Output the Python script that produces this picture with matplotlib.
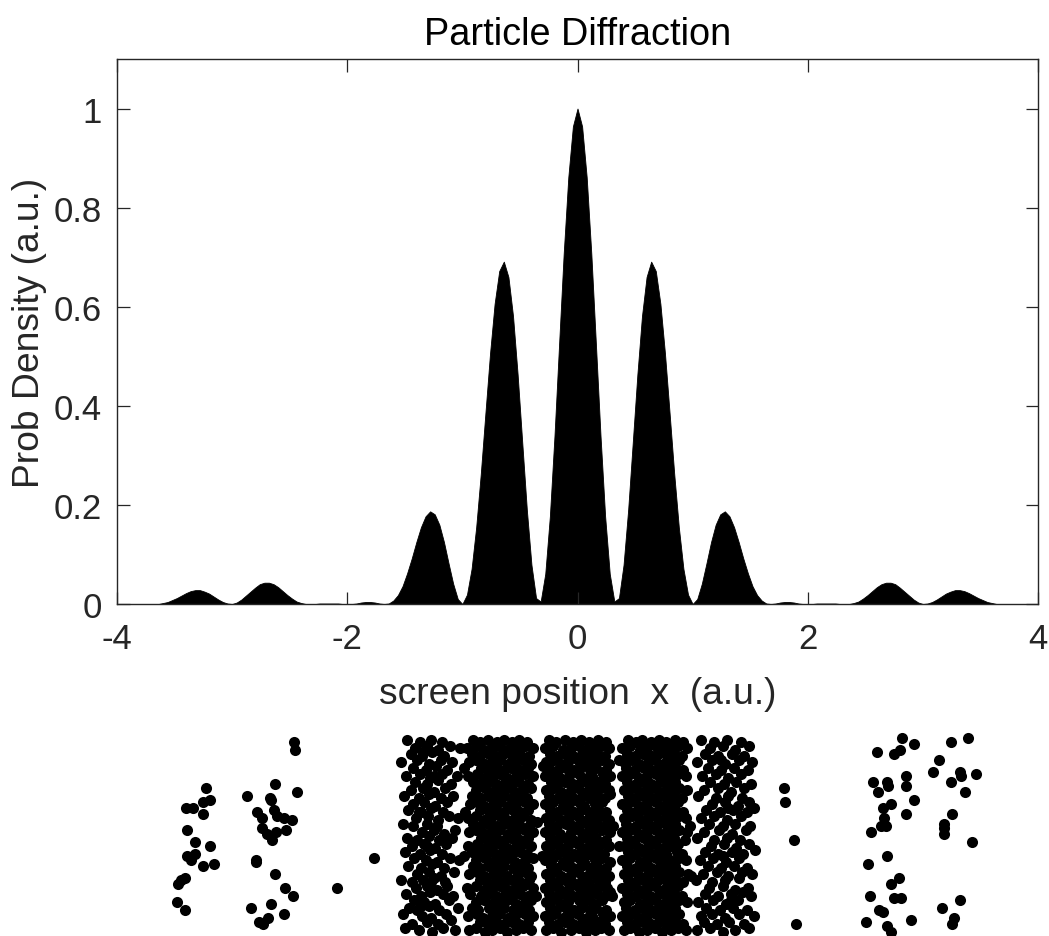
import numpy as np
import matplotlib
matplotlib.use("Agg")
import matplotlib.pyplot as plt

# ---------------- data ----------------
title = "Particle Diffraction"
x_label = "screen position  x  (a.u.)"
y_label = "Prob Density (a.u.)"
x_ticks = [-4, -2, 0, 2, 4]
y_ticks = [0, 0.2, 0.4, 0.6, 0.8, 1.0]
y_tick_labels = ["0", "0.2", "0.4", "0.6", "0.8", "1"]

# screen positions where the density was read (-4 ... 4, step 0.04)
x_pos = np.linspace(-4, 4, 201)
density = [
    0.000, 0.000, 0.000, 0.000, 0.000, 0.000, 0.000, 0.000, 0.000, 0.000,
    0.002, 0.004, 0.008, 0.012, 0.017, 0.022, 0.026, 0.028, 0.028, 0.025,
    0.021, 0.015, 0.009, 0.004, 0.001, 0.000, 0.003, 0.009, 0.017, 0.025,
    0.033, 0.040, 0.043, 0.043, 0.040, 0.034, 0.026, 0.018, 0.011, 0.005,
    0.002, 0.000, 0.000, 0.000, 0.001, 0.001, 0.001, 0.001, 0.001, 0.000,
    0.000, 0.000, 0.001, 0.003, 0.004, 0.004, 0.003, 0.001, 0.000, 0.001,
    0.007, 0.018, 0.036, 0.062, 0.092, 0.125, 0.155, 0.177, 0.187, 0.181,
    0.160, 0.125, 0.082, 0.041, 0.010, 0.000, 0.019, 0.071, 0.155, 0.263,
    0.385, 0.505, 0.606, 0.672, 0.691, 0.660, 0.581, 0.463, 0.326, 0.190,
    0.079, 0.012, 0.005, 0.061, 0.177, 0.339, 0.524, 0.707, 0.861, 0.964,
    1.000,
    0.964, 0.861, 0.707, 0.524, 0.339, 0.177, 0.061, 0.005, 0.012,
    0.079, 0.190, 0.326, 0.463, 0.581, 0.660, 0.691, 0.672, 0.606, 0.505,
    0.385, 0.263, 0.155, 0.071, 0.019, 0.000, 0.010, 0.041, 0.082, 0.125,
    0.160, 0.181, 0.187, 0.177, 0.155, 0.125, 0.092, 0.062, 0.036, 0.018,
    0.007, 0.001, 0.000, 0.001, 0.003, 0.004, 0.004, 0.003, 0.001, 0.000,
    0.000, 0.000, 0.001, 0.001, 0.001, 0.001, 0.001, 0.000, 0.000, 0.000,
    0.002, 0.005, 0.011, 0.018, 0.026, 0.034, 0.040, 0.043, 0.043, 0.040,
    0.033, 0.025, 0.017, 0.009, 0.003, 0.000, 0.001, 0.004, 0.009, 0.015,
    0.021, 0.025, 0.028, 0.028, 0.026, 0.022, 0.017, 0.012, 0.008, 0.004,
    0.002, 0.000, 0.000, 0.000, 0.000, 0.000, 0.000, 0.000, 0.000, 0.000,
    0.000,
]

# particle hits on the screen: pairs "x y", x in 1/100 a.u., y = height in strip (0-100)
hits_far_left = """
-323 74  -340 64  -334 64  -325 67  -319 68  -325 61  -339 53  -332 47
-319 45  -339 40  -332 41  -336 38  -325 35  -316 36  -341 29  -344 28
-347 26  -348 17  -341 13
-246 97  -245 93  -263 76  -287 70  -267 69  -266 68  -244 72  -278 62
-274 59  -264 63  -261 60  -255 59  -248 58  -274 54  -270 51  -262 52
-253 53  -265 48  -279 38  -279 37  -263 31  -254 24  -247 20  -284 14
-266 16  -269 9   -277 7   -273 6   -255 11
-177 39  -209 24
"""

hits_left_128 = """
-150 4  -138 3  -126 2  -117 4  -106 3
-144 6  -131 7  -121 6  -110 8
-152 11  -135 10  -127 9  -114 11
-146 14  -139 13  -129 15  -120 13  -104 14
-142 18  -133 17  -124 16  -112 18
-149 21  -136 20  -128 22  -117 21  -108 20
-140 24  -131 25  -122 23  -113 25
-153 28  -144 27  -134 28  -125 29  -115 27
-139 31  -129 32  -119 30  -107 32
-147 35  -136 34  -126 36  -116 34
-142 39  -132 38  -122 37  -111 39  -103 38
-150 42  -137 41  -128 43  -118 41
-144 45  -133 46  -124 44  -114 46
-148 49  -139 48  -129 50  -120 48  -109 49
-135 52  -125 53  -116 51  -106 53
-152 56  -143 55  -131 56  -122 55
-140 59  -130 60  -121 58  -112 60  -104 59
-147 63  -136 62  -127 64  -117 62
-143 66  -133 67  -124 65  -113 67
-151 70  -138 69  -129 71  -119 69  -108 70
-145 73  -134 74  -125 72  -115 74
-141 77  -131 76  -121 78  -110 76
-149 80  -137 81  -128 79  -118 81  -105 80
-143 84  -132 83  -123 85  -113 83
-153 87  -139 88  -129 86  -119 88  -109 87
-145 91  -135 90  -126 92  -116 90
-141 94  -131 95  -121 93  -111 95  -102 94
-148 98  -137 97  -127 98  -118 97
-134 92  -125 80  -138 62  -131 45  -127 27  -136 15
"""

hits_left_064 = """
-94 3  -88 4  -80 2  -74 3  -67 4  -61 2  -53 3  -47 4  -40 3
-85 7  -78 6  -71 7  -64 6  -57 7  -51 6  -43 7
-95 10  -87 11  -82 9  -74 10  -68 11  -60 9  -54 10  -46 11  -39 10
-92 14  -86 13  -77 14  -71 13  -64 14  -56 13  -50 14  -42 13
-88 17  -81 18  -75 16  -67 17  -61 18  -53 16  -46 17  -40 18
-93 21  -84 20  -78 21  -71 20  -63 21  -57 20  -50 21  -43 20
-96 24  -88 25  -81 23  -74 24  -67 25  -60 23  -53 24  -47 25  -39 24
-85 28  -79 27  -70 28  -64 27  -57 28  -50 27  -42 28
-94 31  -87 32  -81 30  -73 31  -67 32  -61 30  -52 31  -46 32  -40 30
-91 35  -85 34  -78 35  -72 34  -64 35  -56 34  -51 35  -43 34
-88 38  -80 39  -74 37  -68 38  -60 39  -54 37  -46 38  -39 39
-92 42  -86 41  -77 42  -71 41  -65 42  -57 41  -50 42  -44 41
-95 45  -87 46  -81 44  -74 45  -67 46  -61 44  -53 45  -47 46  -40 45
-84 49  -78 48  -71 49  -64 48  -58 49  -50 48  -43 49
-94 52  -88 53  -80 51  -74 52  -68 53  -60 51  -53 52  -46 53  -39 52
-91 56  -85 55  -78 56  -70 55  -64 56  -57 55  -51 56  -42 55
-95 59  -88 60  -81 58  -75 59  -67 60  -61 58  -54 59  -47 60  -40 58
-85 63  -77 62  -71 63  -64 62  -56 63  -50 62  -43 63
-93 66  -87 67  -81 65  -73 66  -67 67  -60 65  -53 66  -46 67  -39 66
-92 70  -84 69  -78 70  -72 69  -64 70  -57 69  -50 70  -44 69
-88 73  -80 74  -74 72  -68 73  -60 74  -54 72  -47 73  -40 74
-91 77  -85 76  -78 77  -71 76  -63 77  -57 76  -51 77  -43 76
-95 80  -87 81  -81 79  -73 80  -67 81  -61 79  -53 80  -46 81  -39 80
-84 84  -78 83  -70 84  -64 83  -58 84  -50 83  -43 84
-94 87  -88 88  -80 86  -74 87  -67 88  -60 86  -54 87  -47 88  -40 86
-92 91  -85 90  -77 91  -71 90  -65 91  -57 90  -50 91  -42 90
-96 94  -87 95  -81 93  -74 94  -68 95  -61 93  -53 94  -46 95  -39 94
-91 98  -85 97  -78 98  -70 97  -64 98  -57 97  -51 98  -44 97
-99 40  -98 62  -99 84  -36 20  -35 57
"""

hits_center = """
-27 3  -21 4  -14 2  -6 3  1 4  7 2  15 3  20 4  27 3
-25 7  -17 6  -11 7  -4 6  4 7  10 6  18 7  24 6
-28 10  -20 11  -13 9  -7 10  0 11  8 9  13 10  22 11  28 10
-24 14  -19 13  -10 14  -3 13  3 14  11 13  16 14  25 13
-27 17  -22 18  -14 16  -8 17  1 18  6 17  14 16  21 18
-25 21  -18 20  -12 21  -4 20  2 21  10 20  17 21  24 20  28 22
-28 24  -21 25  -15 23  -7 24  0 25  7 23  13 24  20 25  26 24
-24 28  -17 27  -11 28  -5 27  4 28  9 27  18 28  24 27
-27 31  -20 32  -14 30  -6 31  0 32  8 30  14 31  22 32  27 30
-23 35  -18 34  -10 35  -4 34  3 35  11 34  17 35  25 34
-28 38  -21 39  -13 37  -7 38  1 39  6 37  15 38  21 39  28 37
-25 42  -18 41  -12 42  -3 41  3 42  10 41  18 42  23 41
-27 45  -20 46  -14 44  -8 45  0 46  7 44  14 45  20 46  27 45
-24 49  -17 48  -11 49  -4 48  4 49  11 48  16 49  25 48
-28 52  -21 53  -15 51  -6 52  1 53  7 51  13 52  21 53  28 52
-25 56  -18 55  -10 56  -4 55  2 56  10 55  17 56  24 55
-27 59  -20 60  -14 58  -7 59  0 60  8 58  14 59  22 60  27 58
-24 63  -18 62  -11 63  -3 62  3 63  10 62  18 63  25 62
-28 66  -21 67  -13 65  -7 66  1 67  6 65  15 66  21 67
-25 70  -17 69  -12 70  -4 69  4 70  11 69  17 70  24 69  28 71
-27 73  -20 74  -14 72  -6 73  0 74  7 72  14 73  20 74  27 73
-23 77  -18 76  -11 77  -4 76  3 77  10 76  18 77  24 76
-28 80  -21 81  -15 79  -7 80  1 81  8 79  13 80  22 81  28 80
-25 84  -17 83  -10 84  -3 83  2 84  11 83  16 84  25 83
-27 87  -20 88  -14 86  -8 87  0 88  6 86  14 87  21 88  27 86
-24 91  -18 90  -11 91  -4 90  4 91  10 90  17 91  24 90
-28 94  -21 95  -13 93  -6 94  1 95  7 93  15 94  20 95  27 94
-25 98  -19 97  -11 98  -4 97  3 98  10 97  18 98  25 97
-31 40  31 55  -30 85  30 20
"""

hits_right_064 = """
40 3  46 4  53 2  60 3  67 4  73 2  81 3  87 4  94 3
43 7  50 6  57 7  64 6  71 7  78 6  85 7  92 6
39 10  47 11  53 9  60 10  68 11  74 9  81 10  88 11
42 14  50 13  56 14  64 13  71 14  77 13  85 14
40 17  46 18  54 16  61 17  67 18  74 16  81 17  88 18  95 17
43 21  50 20  57 21  63 20  71 21  78 20  84 21  91 20
39 24  47 25  53 23  60 24  67 25  74 23  81 24  87 25
44 28  50 27  57 28  64 27  70 28  78 27  85 28  92 27
40 31  46 32  53 30  61 31  67 32  73 30  81 31  88 32  96 31
43 35  51 34  56 35  64 34  72 35  78 34  85 35
39 38  46 39  54 37  60 38  68 39  74 37  80 38  88 39  94 38
44 42  50 41  57 42  65 41  71 42  77 41  86 42  91 41
40 45  47 46  53 44  61 45  67 46  74 44  81 45  87 46
43 49  50 48  58 49  64 48  71 49  78 48  84 49  93 48
39 52  46 53  53 51  60 52  68 53  74 51  81 52  88 53  95 52
42 56  51 55  57 56  64 55  70 56  78 55  85 56
40 59  47 60  54 58  61 59  67 60  73 58  80 59  88 60  94 59
43 63  50 62  56 63  64 62  71 63  77 62  85 63  92 62
39 66  46 67  53 65  60 66  68 67  74 65  81 66  87 67
44 70  50 69  57 70  65 69  71 70  78 69  84 70  91 69
40 73  47 74  54 72  61 73  67 74  74 72  81 73  88 74  95 73
43 77  51 76  57 77  64 76  72 77  78 76  85 77
39 80  46 81  53 79  60 80  68 81  73 79  80 80  87 81  94 80
42 84  50 83  58 84  64 83  71 84  77 83  85 84  92 83
40 87  47 88  53 86  61 87  67 88  74 86  81 87  88 88
43 91  50 90  57 91  65 90  70 91  78 90  84 91  91 90
39 94  46 95  54 93  60 94  68 95  74 93  81 94  87 95  95 94
44 98  51 97  56 98  64 97  71 98  77 97  85 98  92 97
99 30  98 55  36 45  36 88
"""

hits_right_128 = """
104 3  115 4  126 2  137 3  149 4
110 7  121 6  132 7  145 6
107 10  117 11  128 9  140 11  153 10
112 14  124 13  135 14  147 13
105 17  118 18  129 16  139 18
111 21  122 20  133 21  144 22  151 20
114 24  126 25  137 23  148 24
103 28  117 27  128 28  140 29
109 31  121 32  131 30  143 32  152 31
113 35  125 34  136 35  147 34
106 38  118 39  129 37  140 39
111 42  122 41  134 42  144 41  154 43
116 45  127 46  138 44  149 46
104 49  119 48  130 49  141 48
110 52  123 53  134 51  146 53
114 56  126 55  137 56  150 55
107 59  119 60  130 58  142 60
112 63  124 62  135 63  147 62  153 64
117 66  128 67  139 65  149 67
105 70  120 69  131 70  143 69
110 73  122 74  133 72  145 74
115 77  127 76  138 77  151 76
108 80  120 81  131 79  142 81
113 84  125 83  136 84  148 83
104 87  117 88  128 86  140 88  152 87
111 91  122 90  134 91  145 90
115 94  126 95  137 93  149 95
107 98  119 97  130 98  142 97
125 88  131 64  126 40  133 18
"""

hits_far_right = """
179 74  180 67  188 48  190 6
282 99  292 96  260 92  275 91  280 93  257 77  269 77  270 75
285 80  285 75  261 72  272 66  292 68  265 64  285 61  266 59
264 55  268 55  255 52  269 40  252 36  279 29  272 26  254 20
275 19  281 19  262 13  265 12  251 7   290 8   269 5   272 2
324 97  339 99  314 88  309 82  332 82  333 80  324 77  346 81
337 72  325 61  318 56  318 54  318 51  343 47  332 18  317 14
327 9   325 6
"""

# ---------------- figure ----------------
plt.rcParams["font.family"] = ["Liberation Sans", "DejaVu Sans"]
plt.rcParams["axes.unicode_minus"] = False

TXT = "#262626"
W, H = 1049, 937
fig = plt.figure(figsize=(W / 100, H / 100), dpi=100)

ax = fig.add_axes([117 / W, 1 - 605 / H, 921 / W, 545 / H])
ax.fill_between(x_pos, 0, density, facecolor="black", edgecolor="black", linewidth=0.6)
ax.set_xlim(-4, 4)
ax.set_ylim(0, 1.1)
ax.set_xticks(x_ticks)
ax.set_yticks(y_ticks)
ax.set_yticklabels(y_tick_labels)
ax.tick_params(direction="in", length=9, width=0.9, top=True, right=True,
               labelsize=25, colors=TXT)
ax.tick_params(axis="x", pad=13)
ax.tick_params(axis="y", pad=11)
for sp in ax.spines.values():
    sp.set_color(TXT)
    sp.set_linewidth(1.0)
ax.set_title(title, fontsize=27.3, color="black", pad=11)
ax.set_xlabel(x_label, fontsize=26.8, color=TXT, labelpad=15)
ax.set_ylabel(y_label, fontsize=26.8, color=TXT, labelpad=5)

# hits strip
bx = fig.add_axes([117 / W, 0, 921 / W, 200 / H])
bx.set_xlim(-4, 4)
bx.set_ylim(0, 100)
bx.axis("off")
for block in [hits_far_left, hits_left_128, hits_left_064, hits_center,
              hits_right_064, hits_right_128, hits_far_right]:
    pts = np.array(block.split(), dtype=float).reshape(-1, 2)
    bx.plot(pts[:, 0] / 100.0, pts[:, 1], "o", ms=8.0, mfc="black",
            mec="none", clip_on=False)

fig.savefig("out.png", dpi=100)
